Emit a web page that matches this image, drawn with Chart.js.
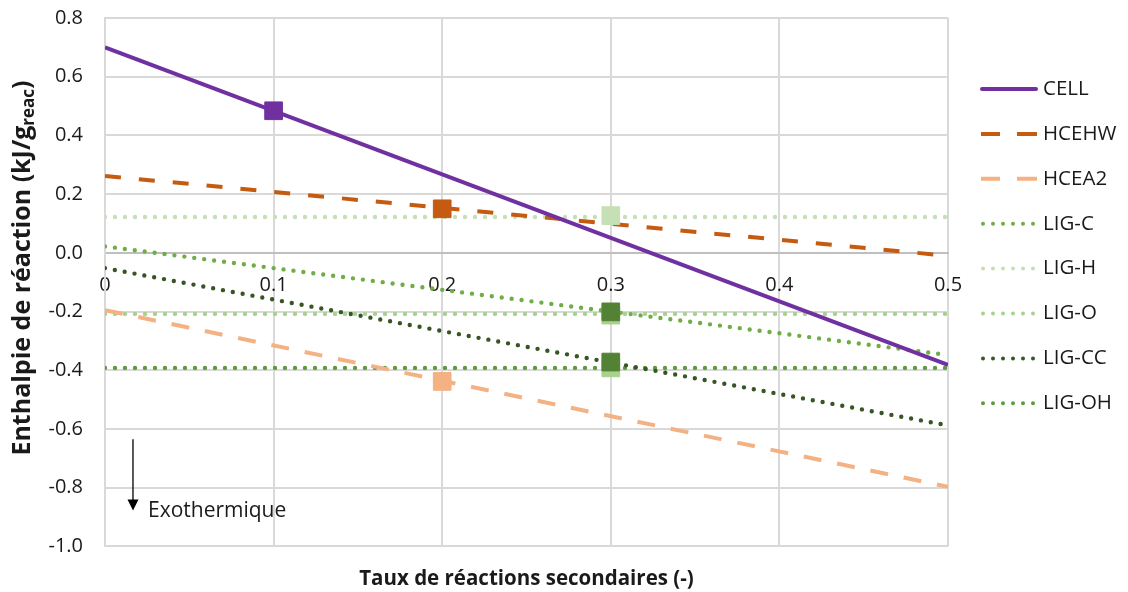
<!DOCTYPE html>
<html>
<head>
<meta charset="utf-8">
<script src="https://cdn.jsdelivr.net/npm/chart.js@4"></script>
<style>
  html, body { margin: 0; padding: 0; background: #fff; }
  #wrap { width: 1128px; height: 592px; }
</style>
</head>
<body>
<div id="wrap"><canvas id="myChart" width="1128" height="592"></canvas></div>
<script>
// series names (legend order)
const seriesNames = ['CELL', 'HCEHW', 'HCEA2', 'LIG-C', 'LIG-H', 'LIG-O', 'LIG-CC', 'LIG-OH'];
// x range of each line
const xStart = 0;
const xEnd = 0.5;
// value at x = 0 and at x = 0.5
const startValues = [0.70, 0.262, -0.195, 0.022, 0.122, -0.208, -0.052, -0.392];
const endValues = [-0.382, -0.01, -0.797, -0.348, 0.122, -0.208, -0.588, -0.392];
// square markers
const markerX = [0.1, 0.2, 0.2, 0.3, 0.3, 0.3, 0.3, 0.3];
const markerValues = [0.484, 0.150, -0.438, -0.201, 0.127, -0.212, -0.372, -0.392];
// axis ticks
const xTicks = [0, 0.1, 0.2, 0.3, 0.4, 0.5];
const yTicks = [-1.0, -0.8, -0.6, -0.4, -0.2, 0.0, 0.2, 0.4, 0.6, 0.8];

const lineColors = ['#7030A0', '#C55A11', '#F4B183', '#70AD47', '#C5E0B4', '#A9D18E', '#375623', '#5B9B3C'];
const markerColors = ['#7030A0', '#C55A11', '#F4B183', '#548235', '#C5E0B4', '#A9D18E', '#548235', '#A9D18E'];
const dashes = [[], [16, 18], [18, 16], [0, 10], [0, 10], [0, 10], [0, 10], [0, 10]];

const FONT = "'Open Sans', 'DejaVu Sans', sans-serif";
const TXT = '#1a1a1a';

let datasets = [];
for (let i = 0; i < seriesNames.length; i++) {
    let dotted = dashes[i].length && dashes[i][0] === 0;
    datasets.push({
        label: seriesNames[i],
        data: [{ x: xStart, y: startValues[i] }, { x: xEnd, y: endValues[i] }],
        showLine: true,
        borderColor: lineColors[i],
        borderWidth: dotted ? 4.4 : 4,
        borderDash: dashes[i],
        borderCapStyle: dotted ? 'round' : 'butt',
        pointRadius: 0,
        pointHoverRadius: 0,
        fill: false,
    });
}
// markers on top of the lines
for (let i = 0; i < seriesNames.length; i++) {
    datasets.push({
        label: seriesNames[i] + ' marker',
        data: [{ x: markerX[i], y: markerValues[i] }],
        showLine: false,
        pointStyle: 'rect',
        pointRadius: 12.5,
        pointHoverRadius: 12.5,
        pointBorderWidth: 1,
        pointBackgroundColor: markerColors[i],
        pointBorderColor: markerColors[i],
        order: -1,
    });
}

// legend drawn by hand (line samples + names)
const legendPlugin = {
    id: 'sideLegend',
    afterDraw(chart) {
        const ctx = chart.ctx;
        ctx.save();
        for (let i = 0; i < seriesNames.length; i++) {
            let y = 89 + i * 44.9;
            let dotted = dashes[i].length && dashes[i][0] === 0;
            ctx.beginPath();
            ctx.strokeStyle = lineColors[i];
            ctx.lineWidth = 4;
            ctx.lineCap = dotted ? 'round' : 'butt';
            ctx.setLineDash(dashes[i]);
            if (dotted) {
                ctx.moveTo(983, y);
                ctx.lineTo(1036, y);
            } else if (dashes[i].length) {
                ctx.setLineDash([]);
                ctx.moveTo(981, y); ctx.lineTo(1000, y);
                ctx.moveTo(1017, y); ctx.lineTo(1037, y);
            } else {
                ctx.lineCap = 'round';
                ctx.moveTo(982, y);
                ctx.lineTo(1036, y);
            }
            ctx.stroke();
            ctx.setLineDash([]);
            ctx.fillStyle = TXT;
            ctx.font = '20.5px ' + FONT;
            ctx.textBaseline = 'middle';
            ctx.textAlign = 'left';
            ctx.fillText(seriesNames[i], 1043, y);
        }
        ctx.restore();
    }
};

// y axis title with subscript, and the "Exothermique" arrow
const extrasPlugin = {
    id: 'extras',
    afterDraw(chart) {
        const ctx = chart.ctx;
        const xs = chart.scales.x;
        const ys = chart.scales.y;
        ctx.save();
        // y title
        ctx.translate(23, 268);
        ctx.rotate(-Math.PI / 2);
        ctx.fillStyle = TXT;
        ctx.textBaseline = 'middle';
        const mainFont = 'bold 25px ' + FONT;
        const subFont = 'bold 17px ' + FONT;
        const t1 = 'Enthalpie de réaction (kJ/g';
        const t2 = 'reac';
        const t3 = ')';
        ctx.font = mainFont;
        let w1 = ctx.measureText(t1).width;
        let w3 = ctx.measureText(t3).width;
        ctx.font = subFont;
        let w2 = ctx.measureText(t2).width;
        let x0 = -(w1 + w2 + w3) / 2;
        ctx.font = mainFont;
        ctx.textAlign = 'left';
        ctx.fillText(t1, x0, 0);
        ctx.font = subFont;
        ctx.fillText(t2, x0 + w1, 6);
        ctx.font = mainFont;
        ctx.fillText(t3, x0 + w1 + w2, 0);
        ctx.restore();

        // arrow
        ctx.save();
        let ax = xs.getPixelForValue(0.0166);
        let ay1 = ys.getPixelForValue(-0.635);
        let ay2 = ys.getPixelForValue(-0.878);
        ctx.strokeStyle = '#000';
        ctx.fillStyle = '#000';
        ctx.lineWidth = 1.3;
        ctx.beginPath();
        ctx.moveTo(ax, ay1);
        ctx.lineTo(ax, ay2 - 10);
        ctx.stroke();
        ctx.beginPath();
        ctx.moveTo(ax - 5.5, ay2 - 11);
        ctx.lineTo(ax + 5.5, ay2 - 11);
        ctx.lineTo(ax, ay2);
        ctx.closePath();
        ctx.fill();
        ctx.fillStyle = TXT;
        ctx.font = '21px ' + FONT;
        ctx.textBaseline = 'middle';
        ctx.textAlign = 'left';
        ctx.fillText('Exothermique', xs.getPixelForValue(0.0255), ys.getPixelForValue(-0.878));
        ctx.restore();
    }
};

const myChart = document.getElementById('myChart').getContext('2d');
const chart = new Chart(myChart, {
    type: 'scatter',
    data: { datasets: datasets },
    plugins: [legendPlugin, extrasPlugin],
    options: {
        responsive: false,
        animation: false,
        events: [],
        layout: { padding: { top: 18, right: 180, left: 0, bottom: 0 } },
        scales: {
            x: {
                type: 'linear',
                position: { y: 0 },
                min: xTicks[0],
                max: xTicks[xTicks.length - 1],
                afterBuildTicks: (scale) => { scale.ticks = xTicks.map(v => ({ value: v })); },
                ticks: {
                    color: TXT,
                    font: { family: FONT, size: 20 },
                    padding: 20,
                    maxRotation: 0,
                    callback: (v) => Math.abs(v) < 1e-9 ? '0' : Number(v).toFixed(1),
                },
                grid: { color: '#d9d9d9', lineWidth: 2, drawTicks: false },
                border: { color: '#bfbfbf', width: 2 },
            },
            y: {
                type: 'linear',
                min: yTicks[0],
                max: yTicks[yTicks.length - 1],
                afterBuildTicks: (scale) => { scale.ticks = yTicks.map(v => ({ value: v })); },
                afterFit: (scale) => { scale.width = 105; },
                ticks: {
                    color: TXT,
                    font: { family: FONT, size: 20 },
                    padding: 0,
                    callback: (v) => Math.abs(v) < 1e-9 ? '0.0' : Number(v).toFixed(1),
                },
                // invisible tick marks give the gap between labels and axis
                grid: { color: '#d9d9d9', lineWidth: 2, drawTicks: true, tickLength: 22, tickColor: 'rgba(0,0,0,0)' },
                border: { color: '#d9d9d9', width: 2 },
            },
        },
        plugins: {
            legend: { display: false },
            tooltip: { enabled: false },
            title: {
                display: true,
                position: 'bottom',
                fullSize: false,
                text: 'Taux de réactions secondaires (-)',
                color: TXT,
                font: { family: FONT, size: 20.5, weight: 'bold' },
                padding: { top: 20, bottom: 1 },
            },
        },
    },
});
</script>
</body>
</html>
